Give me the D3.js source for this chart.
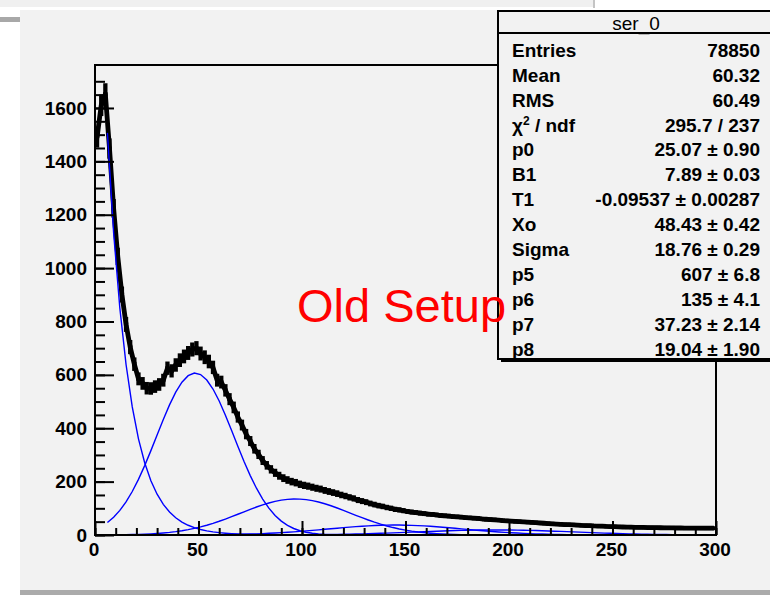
<!DOCTYPE html>
<html><head><meta charset="utf-8">
<script src="https://cdn.jsdelivr.net/npm/d3@7"></script>
<style>body{margin:0;background:#fff}svg{display:block}</style>
</head><body>
<svg id="c" width="770" height="595"></svg>
<script>
// ---------------- data ----------------
const histLo = 0, binWidth = 2;
const counts = [1490,1610,1652,1448,1224,1044,901,789,704,640,
 585,568,550,549,556,564,580,625,615,637,
 655,669,682,695,700,680,666,650,628,580,
 573,542,509,478,442,412,378,352,323,302,
 279,261,246,233,222,213,206,200,196,190,
 186,183,179,175,172,167,163,159,155,150,
 146,141,137,131,127,123,118,114,110,107,
 103,100,96,94,91,88,86,84,82,80,
 78,77,75,73,72,71,69,68,67,65,
 64,63,62,60,59,58,57,56,54,53,
 52,51,50,49,48,47,46,45,44,43,
 42,41,40,39,38.5,38,37,36,35.5,35,
 34,33.5,33,32,31.6,31,30.5,30,29.7,29.2,
 28.8,28.5,28.2,27.9,27.6,27.3,27.1,26.9,26.7,26.5,
 26.3,26.2,26,25.9,25.8,25.7,25.6,25.5,25.5,25.4];

// fit components sampled on x = 6, 9, ..., 300
const fitStart = 6, fitStep = 3;
const expoFit = [1506.7,1131.8,850.2,638.7,479.8,360.4,270.7,203.4,152.8,114.8,
 86.2,64.8,48.6,36.5,27.5,20.6,15.5,11.6,8.7,6.6,
 4.9,3.7,2.8,2.1,1.6,1.2,0.9,0.7,0.5,0.4,
 0.3,0.2,0.2,0.1,0.1,0,0,0,0,0,
 0,0,0,0,0,0,0,0,0,0,
 0,0,0,0,0,0,0,0,0,0,
 0,0,0,0,0,0,0,0,0,0,
 0,0,0,0,0,0,0,0,0,0,
 0,0,0,0,0,0,0,0,0,0,
 0,0,0,0,0,0,0,0,0];
const gaus1Fit = [47.0,66.7,92.1,124.1,162.9,208.4,260.0,316.1,374.6,432.8,
 487.4,535.0,572.4,597.0,606.9,601.3,580.8,546.9,501.9,449.0,
 391.5,332.8,275.7,222.6,175.3,134.5,100.6,73.3,52.1,36.1,
 24.4,16.0,10.3,6.4,3.9,2.3,1.3,0.8,0.4,0.2,
 0,0,0,0,0,0,0,0,0,0,
 0,0,0,0,0,0,0,0,0,0,
 0,0,0,0,0,0,0,0,0,0,
 0,0,0,0,0,0,0,0,0,0,
 0,0,0,0,0,0,0,0,0,0,
 0,0,0,0,0,0,0,0,0];
const gaus2Fit = [0.3,0.6,0.8,1.2,1.6,2.3,3.1,4.2,5.6,7.5,
 9.7,12.5,15.9,20.0,24.8,30.3,36.6,43.7,51.4,59.8,
 68.6,77.8,87.0,96.1,104.9,112.9,120.0,126.0,130.6,133.6,
 135.0,134.6,132.5,128.8,123.6,117.1,109.6,101.2,92.3,83.1,
 73.9,64.8,56.2,48.0,40.6,33.8,27.9,22.6,18.2,14.4,
 11.2,8.7,6.6,5.0,3.7,2.7,2.0,1.5,1.0,0.7,
 0.5,0.3,0.2,0,0,0,0,0,0,0,
 0,0,0,0,0,0,0,0,0,0,
 0,0,0,0,0,0,0,0,0,0,
 0,0,0,0,0,0,0,0,0];
const gaus3Fit = [0,0,0,0,0,0,0,0,0.1,0.1,
 0.2,0.2,0.3,0.3,0.4,0.5,0.7,0.9,1.2,1.5,
 1.9,2.4,2.9,3.6,4.4,5.3,6.3,7.5,8.8,10.2,
 11.8,13.5,15.3,17.3,19.3,21.3,23.4,25.5,27.5,29.4,
 31.2,32.8,34.2,35.4,36.3,36.9,37.2,37.2,36.8,36.2,
 35.3,34.1,32.6,31.0,29.2,27.2,25.2,23.1,21.0,19.0,
 17.0,15.1,13.2,11.5,10.0,8.6,7.3,6.1,5.1,4.2,
 3.5,2.9,2.3,1.9,1.5,1.1,0.9,0.7,0.5,0.4,
 0.3,0.2,0.2,0.1,0.1,0,0,0,0,0,
 0,0,0,0,0,0,0,0,0];
const gaus4Fit = [0,0,0,0,0,0,0,0,0,0,
 0,0,0,0,0,0,0,0,0,0,
 0,0.1,0.1,0.1,0.2,0.2,0.3,0.3,0.4,0.5,
 0.6,0.8,1.0,1.2,1.4,1.7,2.0,2.4,2.8,3.2,
 3.7,4.3,4.9,5.6,6.3,7.1,7.9,8.8,9.7,10.6,
 11.5,12.4,13.3,14.2,15.1,15.9,16.6,17.2,17.8,18.2,
 18.6,18.9,19.0,19.0,18.9,18.7,18.3,17.9,17.3,16.7,
 16.0,15.2,14.3,13.4,12.5,11.6,10.7,9.8,8.9,8.0,
 7.2,6.4,5.7,5.0,4.4,3.8,3.3,2.8,2.4,2.0,
 1.7,1.4,1.2,1.0,0.8,0.6,0.5,0.4,0.3];

const xTicks = [0,50,100,150,200,250,300];
const xMinorStep = 10;
const yTicks = [0,200,400,600,800,1000,1200,1400,1600];
const yMinorStep = 50, yMinorMax = 1700;
const xDomain = [0,300], yDomain = [0,1761];

const statsTitle = "ser_0";
const statsLabels = ["Entries","Mean","RMS","χ2","p0","B1","T1","Xo","Sigma","p5","p6","p7","p8"];
const statsValues = ["78850","60.32","60.49","295.7 / 237","25.07 ± 0.90","7.89 ± 0.03",
  "-0.09537 ± 0.00287","48.43 ± 0.42","18.76 ± 0.29","607 ± 6.8","135 ± 4.1","37.23 ± 2.14","19.04 ± 1.90"];
const annotation = "Old Setup";

// ---------------- drawing ----------------
const FONT = "'Liberation Sans', Arial, Helvetica, sans-serif";
const svg = d3.select("#c");
svg.append("rect").attr("width",770).attr("height",595).attr("fill","#fff");
svg.append("rect").attr("x",0).attr("y",0).attr("width",593).attr("height",7).attr("fill","#f0f0f0");
svg.append("rect").attr("x",593).attr("y",0).attr("width",2).attr("height",8).attr("fill","#c4c4c4");
svg.append("rect").attr("x",0).attr("y",17).attr("width",20).attr("height",5).attr("fill","#a8a8a8");
svg.append("rect").attr("x",20).attr("y",10).attr("width",750).attr("height",580).attr("fill","#f2f2f2");
svg.append("rect").attr("x",20).attr("y",590).attr("width",750).attr("height",5).attr("fill","#ababab");

const L = 95, R = 716, T = 65, B = 535;
const x = d3.scaleLinear().domain(xDomain).range([L, R]);
const y = d3.scaleLinear().domain(yDomain).range([B, T]);

svg.append("clipPath").attr("id","clip").append("rect")
  .attr("x",L).attr("y",T).attr("width",R-L).attr("height",B-T);
const plot = svg.append("g").attr("clip-path","url(#clip)");

// histogram
const bins = counts.map((v,i)=>({lo: histLo + i*binWidth, hi: histLo + (i+1)*binWidth, c: histLo + (i+0.5)*binWidth, v}));
plot.append("path").datum(bins)
  .attr("d", d3.line().x(d=>x(d.c)).y(d=>y(d.v)))
  .attr("fill","none").attr("stroke","#000").attr("stroke-width",4.8).attr("stroke-linejoin","round");
plot.append("g").selectAll("line").data(bins).join("line")
  .attr("x1",d=>x(d.lo)).attr("x2",d=>x(d.hi)).attr("y1",d=>y(d.v)).attr("y2",d=>y(d.v))
  .attr("stroke","#000").attr("stroke-width",4);
plot.append("g").selectAll("line").data(bins).join("line")
  .attr("x1",d=>x(d.c)).attr("x2",d=>x(d.c))
  .attr("y1",d=>y(d.v-Math.sqrt(d.v))).attr("y2",d=>y(d.v+Math.sqrt(d.v)))
  .attr("stroke","#000").attr("stroke-width",4.3);

// fit components
const fitLine = d3.line().x((d,i)=>x(fitStart + i*fitStep)).y(d=>y(d));
[expoFit, gaus1Fit, gaus2Fit, gaus3Fit, gaus4Fit].forEach(arr=>{
  plot.append("path").datum(arr).attr("d", fitLine)
    .attr("fill","none").attr("stroke","#0000ff").attr("stroke-width",1.4);
});

// frame
svg.append("rect").attr("x",L).attr("y",T).attr("width",R-L).attr("height",B-T)
  .attr("fill","none").attr("stroke","#000").attr("stroke-width",2);

// axes
const styleAxis = g => {
  g.select(".domain").remove();
  g.selectAll("line").attr("stroke","#000").attr("stroke-width",2);
  g.selectAll("text").attr("font-family",FONT).attr("font-weight","bold").attr("font-size","19px").attr("fill","#000");
};
const yMinor = d3.range(0, yMinorMax + 1, yMinorStep);
const xMinor = d3.range(xDomain[0], xDomain[1] + 1, xMinorStep);
svg.append("g").attr("transform",`translate(${L},0)`)
  .call(d3.axisLeft(y).tickValues(yMinor).tickSize(-10).tickFormat("")).call(styleAxis);
svg.append("g").attr("transform",`translate(${L},0)`)
  .call(d3.axisLeft(y).tickValues(yTicks).tickSize(-19).tickPadding(8).tickFormat(d3.format("d"))).call(styleAxis);
svg.append("g").attr("transform",`translate(0,${B})`)
  .call(d3.axisBottom(x).tickValues(xMinor).tickSize(-7).tickFormat("")).call(styleAxis);
const xa = svg.append("g").attr("transform",`translate(0,${B})`)
  .call(d3.axisBottom(x).tickValues(xTicks).tickSize(-14).tickPadding(8).tickFormat(d3.format("d"))).call(styleAxis);
xa.selectAll("text").attr("dx","-1.5");

// stats box
const bx = 498, by = 11, bb = 359;
svg.append("rect").attr("x",bx+3).attr("y",bb-1).attr("width",300).attr("height",4).attr("fill","#000");
svg.append("rect").attr("x",bx).attr("y",by).attr("width",300).attr("height",bb-by)
  .attr("fill","#f2f2f2").attr("stroke","#000").attr("stroke-width",2);
svg.append("line").attr("x1",bx).attr("x2",770).attr("y1",33).attr("y2",33).attr("stroke","#000").attr("stroke-width",2);
svg.append("text").attr("x",636).attr("y",29.5).attr("text-anchor","middle")
  .attr("font-family",FONT).attr("font-size","19px").text(statsTitle);
const rowY = i => 50 + i*24.9 + 6.8;
statsLabels.forEach((lab,i)=>{
  const t = svg.append("text").attr("x",512).attr("y",rowY(i))
    .attr("font-family",FONT).attr("font-weight","bold").attr("font-size","19px");
  if (lab === "χ2") {
    t.append("tspan").text("χ");
    t.append("tspan").attr("font-size","12px").attr("dy","-7").text("2");
    t.append("tspan").attr("dy","7").text(" / ndf");
  } else t.text(lab);
  svg.append("text").attr("x",760).attr("y",rowY(i)).attr("text-anchor","end")
    .attr("font-family",FONT).attr("font-weight","bold").attr("font-size","19px").text(statsValues[i]);
});

// annotation
svg.append("text").attr("x",297).attr("y",322).attr("fill","#ff0000")
  .attr("font-family",FONT).attr("font-size","47px").text(annotation);
</script>
</body></html>
